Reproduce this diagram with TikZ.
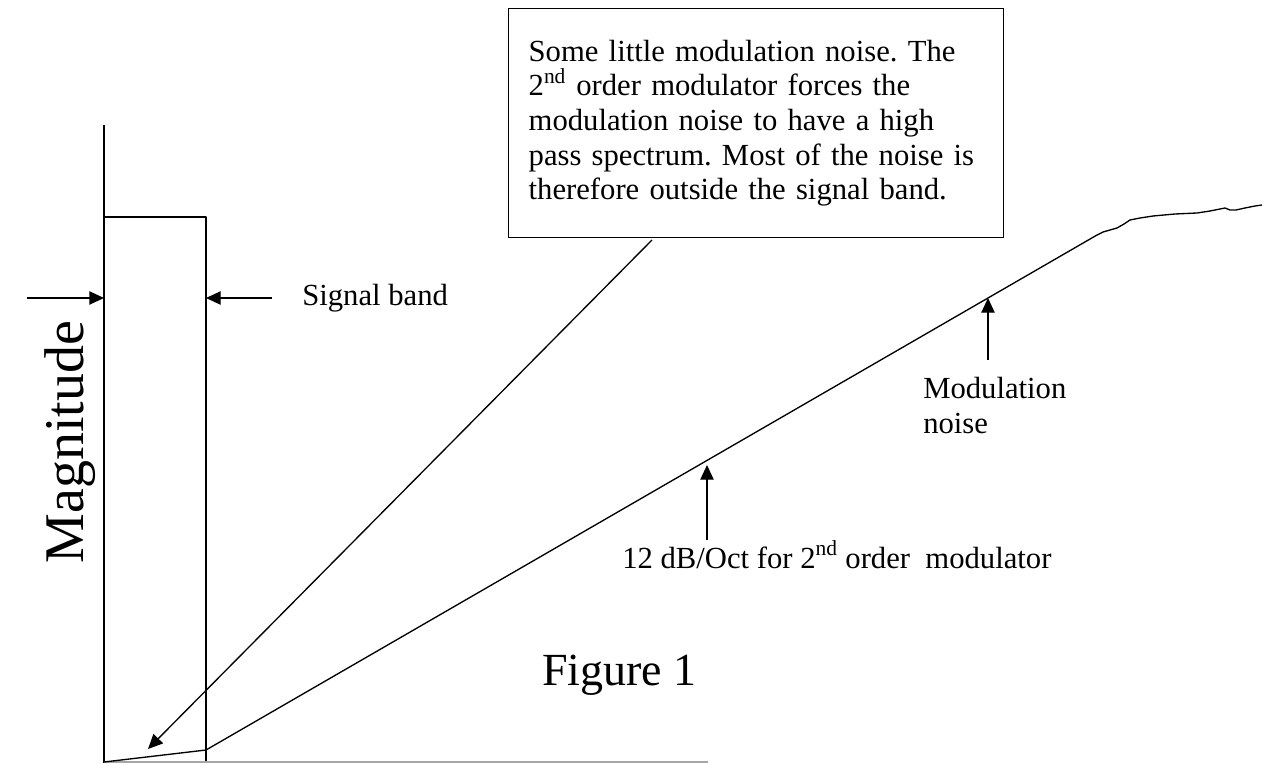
\documentclass[tikz,border=0pt]{standalone}
\usepackage{fontspec}
\setmainfont{Liberation Serif}
\usetikzlibrary{arrows.meta}
\frenchspacing
\begin{document}
\begin{tikzpicture}[x=0.75pt,y=-0.75pt,
  plot/.style={line width=1pt,line join=round},
  arr/.style={line width=1pt,-{Triangle[length=11pt,width=10pt]}},
  lbl/.style={font=\fontsize{23}{25.9}\selectfont,inner sep=0pt},
  big/.style={font=\fontsize{34.5}{40}\selectfont,inner sep=0pt}]
\useasboundingbox (0,0) rectangle (1267,763);

% axes and signal band
\coordinate (ytop) at (104,125);
\coordinate (origin) at (104,762);
\coordinate (xend) at (708,762);
\coordinate (bandTL) at (104,217);
\coordinate (bandTR) at (206,217);
\coordinate (bandBR) at (206,763);
\draw[plot] (ytop) -- (104,763);
\draw[plot] (bandTL) -- (bandTR) -- (bandBR);
\draw[line width=1pt,gray!70] (origin) -- (xend);

% noise spectrum
\coordinate (knee) at (206,750);
\coordinate (roll) at (1097,235);
\draw[plot] (origin) -- (knee) -- (roll)
  -- (1103,232) -- (1110,230) -- (1117,228) -- (1124,224) -- (1130,220)
  -- (1140,218) -- (1153,216) -- (1175,214) -- (1197,213) -- (1210,211)
  -- (1225,208) -- (1230,210) -- (1236,210) -- (1245,208) -- (1255,206)
  -- (1262,205);

% signal band markers
\coordinate (lt) at (27,298);
\coordinate (lh) at (104,298);
\coordinate (rt) at (272,298);
\coordinate (rh) at (206,298);
\draw[arr] (lt) -- (lh);
\draw[arr] (rt) -- (rh);
\node[lbl,anchor=base west] (band) at (302,305) {Signal band};

% explanatory note
\node[draw,line width=1pt,anchor=north west,minimum width=371.25pt,minimum height=171.75pt,
      text width=341.25pt,align=left,inner xsep=15pt,inner ysep=0pt,
      font=\fontsize{23}{25.9}\selectfont] (note) at (508,8)
  {Some little modulation noise. The\\
   2\textsuperscript{nd} order modulator forces the\\
   modulation noise to have a high\\
   pass spectrum. Most of the noise is\\
   therefore outside the signal band.};
\coordinate (ntail) at (652,240);
\coordinate (nhead) at (148,749);
\draw[arr] (ntail) -- (nhead);

% slope annotations
\node[lbl,anchor=north west,align=left] (modn) at (923,377) {Modulation\\noise};
\coordinate (mtail) at (988,360);
\coordinate (mhead) at (988,298);
\draw[arr] (mtail) -- (mhead);

\node[lbl,anchor=base west] (slope) at (622,568)
  {12 dB/Oct for 2\textsuperscript{nd} order\ \ modulator};
\coordinate (stail) at (707,540);
\coordinate (shead) at (707,465);
\draw[arr] (stail) -- (shead);

% titles
\node[big,anchor=base west] (fig) at (542,685) {Figure 1};
\node[font=\fontsize{42}{48}\selectfont,inner sep=0pt,rotate=90,anchor=base] (mag) at (83,442) {Magnitude};
\end{tikzpicture}
\end{document}
